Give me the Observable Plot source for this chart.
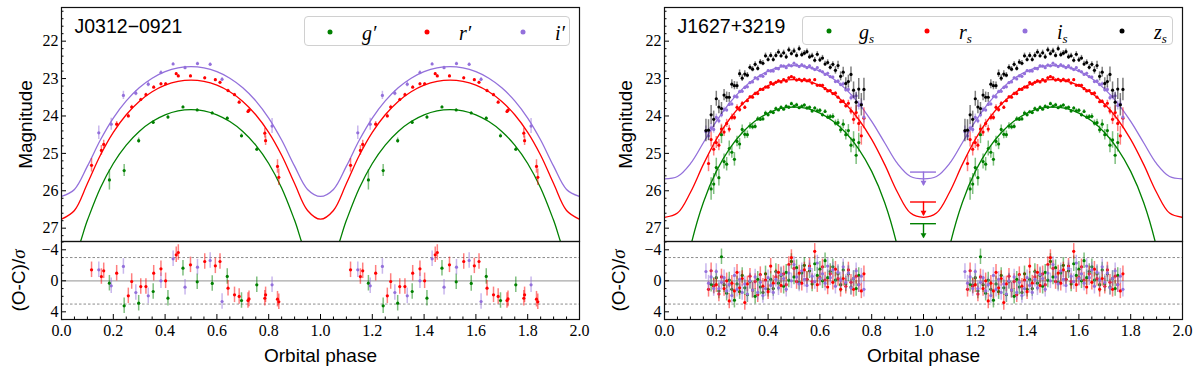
<!DOCTYPE html>
<html><head><meta charset="utf-8">
<script src="https://cdn.jsdelivr.net/npm/d3@7"></script>
<script src="https://cdn.jsdelivr.net/npm/@observablehq/plot@0.6"></script>
<style>
body{margin:0;background:#fff}
#fig{position:relative;width:1200px;height:372px;background:#fff;overflow:hidden}
.p{position:absolute;width:600px}
.leg{position:absolute;border:1px solid #d0d0d0;border-radius:4px;background:rgba(255,255,255,0.8);box-sizing:border-box}
.leg .dot{position:absolute;width:5px;height:5px;border-radius:50%;transform:translate(-50%,-50%)}
.leg .lab{position:absolute;font-family:'Liberation Serif',serif;font-style:italic;font-size:20px;line-height:20px;transform:translateY(-50%);white-space:nowrap}
.leg sub{font-size:13px;vertical-align:-4px;line-height:0}
</style></head><body><div id="fig"></div><script>
// ---------- ticks ----------
const phaseTicks = [0,0.2,0.4,0.6,0.8,1.0,1.2,1.4,1.6,1.8,2.0];
const magTicks = [22,23,24,25,26,27];
const resTicks = [-4,0,4];
const resZero = [0];
const resLimits = [-3,3];
const colors = {g:"green", r:"red", i:"mediumpurple", z:"black"};

// ---------- J0312-0921 (left) ----------
const phaseL_g = [0.185,0.242,0.298,0.354,0.411,0.469,0.524,0.582,0.640,0.695,0.754];
const magL_g = [25.71,25.46,24.66,24.17,24.03,23.76,23.84,23.92,24.06,24.53,24.89];
const errL_g = [0.27,0.16,0.07,0.05,0.045,0.03,0.03,0.03,0.03,0.05,0.05];
const resL_g = [0.31,3.23,2.89,1.38,2.24,-1.63,0.13,0.34,-0.56,2.54,0.52];

const phaseL_r = [0.116,0.154,0.163,0.213,0.258,0.271,0.306,0.326,0.356,0.384,0.402,0.443,0.451,0.498,0.553,0.594,0.612,0.643,0.668,0.686,0.720,0.724,0.785,0.788,0.834,0.839];
const magL_r = [25.32,24.92,24.76,24.22,24.00,23.76,23.56,23.43,23.23,23.14,23.14,22.87,22.93,22.93,22.98,23.03,23.10,23.32,23.43,23.63,23.88,23.85,24.46,24.66,25.35,25.64];
const errL_r = [0.18,0.13,0.11,0.07,0.05,0.045,0.035,0.035,0.035,0.035,0.035,0.03,0.03,0.03,0.03,0.03,0.03,0.035,0.035,0.04,0.045,0.045,0.13,0.13,0.18,0.22];
const resL_r = [-1.42,-0.55,-1.29,-0.98,1.94,0.09,0.74,0.74,-0.98,-1.54,0.0,-3.35,-3.65,-2.06,-2.49,-1.93,-2.49,0.95,1.81,2.02,2.54,2.33,2.25,1.81,2.37,2.71];

const phaseL_i = [0.144,0.192,0.239,0.287,0.335,0.384,0.431,0.477,0.525,0.574,0.620,0.813];
const magL_i = [24.45,24.22,23.45,23.39,23.15,22.84,22.61,22.71,22.60,22.62,23.02,24.27];
const errL_i = [0.18,0.16,0.11,0.07,0.07,0.05,0.04,0.04,0.04,0.04,0.05,0.2];
const resL_i = [-1.42,0.65,-1.85,1.51,1.94,0.0,-2.83,0.82,-1.76,-2.62,2.67,0.52];

const modelPhase = [0,0.05,0.1,0.15,0.2,0.25,0.3,0.35,0.4,0.45,0.5,0.55,0.6,0.65,0.7,0.75,0.8,0.85,0.9,0.95,1.0];
const modelL_i = [26.152,25.964,25.342,24.643,24.055,23.595,23.246,22.990,22.816,22.714,22.680,22.714,22.816,22.990,23.246,23.595,24.055,24.643,25.342,25.964,26.152];
const modelL_r = [26.760,26.527,25.807,25.052,24.439,23.968,23.613,23.353,23.177,23.074,23.040,23.074,23.177,23.353,23.613,23.968,24.439,25.052,25.807,26.527,26.760];
const modelL_g = [28.126,27.751,26.790,25.927,25.270,24.779,24.413,24.149,23.969,23.864,23.830,23.864,23.969,24.149,24.413,24.779,25.270,25.927,26.790,27.751,28.126];

// ---------- J1627+3219 (right) ----------
const phaseR = [0.16,0.17,0.18,0.19,0.20,0.21,0.22,0.23,0.24,0.25,0.26,0.27,0.28,0.29,0.30,0.31,0.32,0.33,0.34,0.35,0.36,0.37,0.38,0.39,0.40,0.41,0.42,0.43,0.44,0.45,0.46,0.47,0.48,0.49,0.50,0.51,0.52,0.53,0.54,0.55,0.56,0.57,0.58,0.59,0.60,0.61,0.62,0.63,0.64,0.65,0.66,0.67,0.68,0.69,0.70,0.71,0.72,0.73,0.74,0.75,0.76,0.77];
const magR_g = [null,null,25.95,25.82,25.38,25.65,24.50,25.22,25.29,24.87,24.97,25.16,24.68,24.75,24.36,24.49,24.50,24.27,24.29,24.28,24.08,24.09,24.08,23.92,23.97,23.89,23.91,23.80,23.84,23.77,23.82,23.74,23.77,23.67,23.74,23.70,23.78,23.74,23.71,23.79,23.77,23.87,23.79,23.86,23.85,23.97,23.88,24.03,24.02,24.01,24.19,24.18,24.37,24.22,24.50,24.39,24.78,24.64,25.05,24.71,null,null];
const errR_g = [0.35,0.32,0.30,0.28,0.25,0.22,0.24,0.20,0.18,0.20,0.16,0.18,0.14,0.15,0.12,0.12,0.10,0.09,0.08,0.07,0.06,0.05,0.05,0.05,0.04,0.04,0.04,0.04,0.04,0.04,0.04,0.04,0.04,0.04,0.04,0.04,0.04,0.04,0.04,0.04,0.04,0.04,0.04,0.05,0.05,0.05,0.05,0.06,0.06,0.07,0.08,0.09,0.10,0.12,0.14,0.16,0.20,0.22,0.25,0.25,0.28,0.30];
const resR_g = [null,null,0.45,0.6,-0.4,1.3,-3.1,0.5,1.6,-0.1,1.1,2.5,0.4,1.4,-0.7,0.9,1.8,0.1,1.2,2.0,-0.2,0.8,1.5,-0.9,1.1,-0.2,1.0,-1.2,0.3,-0.7,0.7,-1.1,-0.1,-2.5,-0.5,-1.7,0.2,-1.0,-2.0,-0.2,-1.3,0.4,-2.2,-0.7,-1.5,0.0,-2.6,-0.4,-1.2,-1.8,-0.1,-0.9,0.5,-1.4,0.4,-0.9,0.8,-0.3,1.0,-0.7,null,null];

const magR_r = [null,25.27,24.63,24.89,24.71,24.78,24.35,24.43,24.20,24.35,24.04,24.04,23.77,23.83,23.67,23.77,23.59,23.49,23.50,23.40,23.40,23.29,23.29,23.23,23.23,23.11,23.15,23.10,23.06,23.09,23.03,23.07,22.98,22.95,22.98,23.04,23.02,23.06,23.02,23.06,23.04,23.12,23.03,23.18,23.18,23.18,23.27,23.33,23.32,23.40,23.39,23.50,23.62,23.61,23.73,23.66,23.87,24.09,23.91,24.20,24.53,24.06];
const errR_r = [0.25,0.22,0.20,0.18,0.16,0.15,0.13,0.12,0.11,0.10,0.09,0.08,0.07,0.07,0.06,0.05,0.05,0.04,0.04,0.04,0.03,0.03,0.03,0.03,0.03,0.03,0.03,0.03,0.03,0.03,0.03,0.03,0.03,0.03,0.03,0.03,0.03,0.03,0.03,0.03,0.03,0.03,0.03,0.03,0.03,0.03,0.03,0.03,0.03,0.03,0.04,0.04,0.05,0.05,0.06,0.08,0.10,0.14,0.18,0.22,0.25,0.28];
const resR_r = [null,1.1,-1.3,0.7,0.5,1.7,-0.5,1.0,0.0,2.6,0.3,1.3,-1.1,0.9,-0.3,2.8,0.4,-0.6,1.2,0.1,1.8,-0.8,0.7,-0.1,1.4,-1.9,0.3,-0.5,-1.1,0.6,-0.9,0.5,-2.1,-3.0,-1.6,0.1,-1.0,0.3,-1.4,-0.2,-1.9,0.1,-3.8,0.5,-0.4,-1.8,-0.1,0.8,-0.9,0.2,-1.5,-0.3,1.1,-0.3,0.7,-1.4,0.2,1.1,-0.6,0.5,1.3,-0.9];

const magR_i = [24.42,24.53,24.32,24.36,24.04,24.13,23.97,23.83,23.84,23.69,23.68,23.48,23.49,23.35,23.34,23.24,23.22,23.11,23.09,22.98,23.01,22.93,22.94,22.87,22.79,22.80,22.80,22.73,22.74,22.66,22.67,22.71,22.64,22.66,22.59,22.64,22.68,22.63,22.67,22.71,22.66,22.72,22.76,22.71,22.79,22.82,22.89,22.86,22.95,22.96,23.08,23.07,23.16,23.14,23.30,23.29,23.51,23.48,23.46,23.72,23.68,24.03];
const errR_i = [0.15,0.13,0.12,0.10,0.09,0.08,0.08,0.07,0.06,0.06,0.05,0.05,0.05,0.04,0.04,0.04,0.03,0.03,0.03,0.03,0.03,0.03,0.03,0.03,0.03,0.03,0.03,0.03,0.03,0.03,0.03,0.03,0.03,0.03,0.03,0.03,0.03,0.03,0.03,0.03,0.03,0.03,0.03,0.03,0.03,0.03,0.03,0.03,0.03,0.03,0.04,0.04,0.05,0.05,0.06,0.07,0.08,0.09,0.10,0.12,0.14,0.16];
const resR_i = [-1.2,0.3,-0.5,1.0,-1.2,1.0,0.2,-0.4,1.3,0.5,1.9,-0.7,1.1,-0.2,1.5,0.4,1.7,0.0,1.2,-0.5,1.5,0.2,1.9,1.0,-0.4,0.6,1.5,-0.2,0.9,-0.8,-0.3,1.1,-1.0,0.0,-2.1,-0.5,0.4,-1.3,-0.2,0.6,-1.6,-0.6,0.1,-2.3,-0.3,-0.9,0.3,-1.9,-0.4,-1.4,0.7,-1.1,-0.1,-1.8,0.2,-1.0,0.9,-0.3,-1.3,0.5,-0.6,1.1];

const magR_z = [24.39,24.38,23.97,24.09,23.54,23.76,23.80,23.44,23.50,23.50,23.15,23.19,23.19,22.87,22.99,22.88,22.91,22.70,22.75,22.62,22.73,22.56,22.59,22.39,22.49,22.38,22.49,22.38,22.29,22.39,22.31,22.42,22.23,22.33,22.26,22.38,22.20,22.36,22.32,22.28,22.42,22.39,22.51,22.35,22.50,22.45,22.61,22.57,22.70,22.62,22.78,22.65,22.94,22.83,23.13,23.08,22.89,23.31,23.63,23.28,23.70,23.29];
const errR_z = [0.30,0.28,0.25,0.22,0.20,0.18,0.16,0.15,0.14,0.13,0.12,0.11,0.10,0.10,0.09,0.09,0.07,0.07,0.07,0.07,0.07,0.07,0.07,0.07,0.07,0.07,0.07,0.07,0.07,0.07,0.07,0.07,0.07,0.07,0.07,0.07,0.07,0.07,0.07,0.07,0.07,0.07,0.07,0.07,0.07,0.07,0.07,0.07,0.07,0.07,0.10,0.11,0.12,0.13,0.15,0.17,0.20,0.22,0.25,0.28,0.30,0.30];

const modelR_i = [25.680,25.618,25.276,24.716,24.147,23.663,23.283,22.999,22.803,22.688,22.650,22.688,22.803,22.999,23.283,23.663,24.147,24.716,25.276,25.618,25.680];
const modelR_r = [26.710,26.597,26.045,25.295,24.626,24.094,23.688,23.391,23.188,23.069,23.030,23.069,23.188,23.391,23.688,24.094,24.626,25.295,26.045,26.597,26.710];
const modelR_g = [30.51,29.35,27.516,26.311,25.482,24.885,24.448,24.135,23.923,23.800,23.760,23.800,23.923,24.135,24.448,24.885,25.482,26.311,27.516,29.35,30.51];

// upper limits at phase 1 (right panel)
const ulBand = ["i","r","g"];
const ulPhase = [1.0,1.0,1.0];
const ulMag = [25.50,26.30,26.88];
const ulTip = [25.86,26.66,27.26];
const ulHalfWidth = 0.05;

const titles = ["J0312\u22120921","J1627+3219"];
const legendL = ["g\u2032","r\u2032","i\u2032"];
const legendR = ["g","r","i","z"];

// ---------- helpers ----------
function pts(phase, mag, err, res, band) {
  const out = [];
  for (const k of [0,1]) for (let j = 0; j < phase.length; j++) {
    if (mag[j] == null) continue;
    out.push({phase: phase[j] + k, mag: mag[j], err: err[j], res: res ? res[j] : null, band});
  }
  return out;
}
function model(vals, band) {
  const out = [];
  for (const k of [0,1]) for (let j = 0; j < modelPhase.length; j++) {
    if (k === 1 && j === 0) continue;
    out.push({phase: modelPhase[j] + k, mag: vals[j], band});
  }
  return out;
}
const SERIF = "'Liberation Serif', serif";
const SANS = "'Liberation Sans', Arial, sans-serif";
const magMinor = d3.range(21.2, 27.3, 0.2).map(v => +v.toFixed(1)).filter(v => Math.abs(v - Math.round(v)) > 0.01);
const resMinor = d3.range(-5, 6, 1).filter(v => v % 4 !== 0);
const phaseMinor = d3.range(0, 2.001, 0.05).map(v => +v.toFixed(2)).filter(v => Math.abs(v*5 - Math.round(v*5)) > 0.01);

function topPlot({mL, mR, title, series, models, limits, ylabDx}) {
  const pw = 600 - mL - mR;
  const marks = [];
  for (const m of models) marks.push(Plot.line(m, {x: "phase", y: "mag", stroke: colors[m[0].band], strokeWidth: 1.3, curve: "catmull-rom", clip: true}));
  for (const s of series) {
    const c = colors[s[0].band];
    marks.push(Plot.ruleX(s, {x: "phase", y1: d => d.mag - d.err, y2: d => d.mag + d.err, stroke: c, strokeOpacity: 0.5, strokeWidth: 1.5, clip: true}));
    marks.push(Plot.dot(s, {x: "phase", y: "mag", r: 1.6, fill: c, clip: true}));
  }
  if (limits) {
    marks.push(Plot.ruleY(limits, {y: "mag", x1: d => d.phase - ulHalfWidth, x2: d => d.phase + ulHalfWidth, stroke: d => colors[d.band], strokeWidth: 1.4}));
    marks.push(Plot.ruleX(limits, {x: "phase", y1: "mag", y2: "tip", stroke: d => colors[d.band], strokeWidth: 1.4}));
    marks.push(Plot.dot(limits, {x: "phase", y: d => d.tip - 0.08, symbol: "triangle", rotate: 180, r: 2.2, fill: d => colors[d.band]}));
  }
  marks.push(
    Plot.tickY(magTicks, {y: d => d, insetRight: pw - 5, stroke: "black"}),
    Plot.tickY(magMinor, {y: d => d, insetRight: pw - 2.5, stroke: "black"}),
    Plot.axisY({ticks: magTicks, tickSize: 0, tickPadding: 3, tickFormat: d3.format("d"), label: null, fontFamily: SERIF, fontSize: 16}),
    Plot.frame({stroke: "#111", strokeWidth: 1.2}),
    Plot.text([title], {text: d => d, frameAnchor: "top-left", dx: 13, dy: 11.3, lineAnchor: "top", textAnchor: "start", fontFamily: SANS, fontSize: 19.5, fill: "black"}),
    Plot.text(["Magnitude"], {text: d => d, frameAnchor: "left", dx: ylabDx, rotate: -90, textAnchor: "middle", lineAnchor: "middle", fontFamily: SANS, fontSize: 19, fill: "black"})
  );
  return Plot.plot({
    width: 600, height: 241, marginLeft: mL, marginRight: mR, marginTop: 7, marginBottom: 0,
    style: {fontFamily: SERIF, fontSize: "16px", overflow: "visible", background: "transparent", color: "black"},
    x: {domain: [0, 2], axis: null},
    y: {domain: [21.1, 27.356], reverse: true},
    marks
  });
}

function resPlot({mL, mR, series, ylabDx}) {
  const pw = 600 - mL - mR;
  const ph = 78;
  const marks = [
    Plot.ruleY(resZero, {y: d => d, stroke: "#a8a8a8", strokeWidth: 1.2}),
    Plot.ruleY(resLimits, {y: d => d, stroke: "#8c8c8c", strokeWidth: 1, strokeDasharray: "2.5,2"})
  ];
  for (const s of series) {
    const c = colors[s[0].band];
    marks.push(Plot.ruleX(s, {x: "phase", y1: d => d.res - 1, y2: d => d.res + 1, stroke: c, strokeOpacity: 0.5, strokeWidth: 1.5, clip: true}));
    marks.push(Plot.dot(s, {x: "phase", y: "res", r: 1.6, fill: c, clip: true}));
  }
  marks.push(
    Plot.tickY(resTicks, {y: d => d, insetRight: pw - 5, stroke: "black"}),
    Plot.tickY(resMinor, {y: d => d, insetRight: pw - 2.5, stroke: "black"}),
    Plot.tickX(phaseTicks, {x: d => d, insetTop: ph - 5, stroke: "black"}),
    Plot.tickX(phaseMinor, {x: d => d, insetTop: ph - 2.5, stroke: "black"}),
    Plot.axisY({ticks: resTicks, tickSize: 0, tickPadding: 3, label: null, fontFamily: SERIF, fontSize: 16}),
    Plot.axisX({ticks: phaseTicks, tickSize: 0, tickPadding: 5, tickFormat: d3.format(".1f"), label: null, fontFamily: SERIF, fontSize: 16}),
    Plot.frame({stroke: "#111", strokeWidth: 1.2}),
    Plot.text(["(O-C)/\u03c3"], {text: d => d, frameAnchor: "left", dx: ylabDx, rotate: -90, textAnchor: "middle", lineAnchor: "middle", fontFamily: SANS, fontSize: 19, fill: "black"}),
    Plot.text(["Orbital phase"], {text: d => d, frameAnchor: "bottom", dy: 36, textAnchor: "middle", lineAnchor: "middle", fontFamily: SANS, fontSize: 19, fill: "black"})
  );
  const svg = Plot.plot({
    width: 600, height: 131, marginLeft: mL, marginRight: mR, marginTop: 0, marginBottom: 53,
    style: {fontFamily: SERIF, fontSize: "16px", overflow: "visible", background: "transparent", color: "black"},
    x: {domain: [0, 2]},
    y: {domain: [-5.07, 4.99], reverse: true},
    marks
  });
  svg.querySelectorAll("text").forEach(t => {
    if (t.textContent === "(O-C)/\u03c3") {
      t.textContent = "(O-C)/";
      const ts = document.createElementNS("http://www.w3.org/2000/svg", "tspan");
      ts.setAttribute("font-style", "italic");
      ts.setAttribute("font-family", SERIF);
      ts.textContent = "\u03c3";
      t.appendChild(ts);
    }
  });
  return svg;
}

const fig = document.getElementById("fig");
function place(svg, left, top) {
  const d = document.createElement("div");
  d.className = "p"; d.style.left = left + "px"; d.style.top = top + "px";
  d.appendChild(svg); fig.appendChild(d);
}

// left panel
const L_g = pts(phaseL_g, magL_g, errL_g, resL_g, "g");
const L_r = pts(phaseL_r, magL_r, errL_r, resL_r, "r");
const L_i = pts(phaseL_i, magL_i, errL_i, resL_i, "i");
place(topPlot({mL: 61, mR: 21, title: titles[0], series: [L_g, L_r, L_i],
  models: [model(modelL_i, "i"), model(modelL_r, "r"), model(modelL_g, "g")], ylabDx: -36}), 0, 0);
place(resPlot({mL: 61, mR: 21, series: [L_g, L_r, L_i], ylabDx: -43}), 0, 241);

// right panel
const R_g = pts(phaseR, magR_g, errR_g, resR_g, "g");
const R_r = pts(phaseR, magR_r, errR_r, resR_r, "r");
const R_i = pts(phaseR, magR_i, errR_i, resR_i, "i");
const R_z = pts(phaseR, magR_z, errR_z, null, "z");
const limits = ulBand.map((b, j) => ({band: b, phase: ulPhase[j], mag: ulMag[j], tip: ulTip[j]}));
place(topPlot({mL: 64, mR: 18, title: titles[1], series: [R_g, R_r, R_i, R_z],
  models: [model(modelR_i, "i"), model(modelR_r, "r"), model(modelR_g, "g")], limits, ylabDx: -39}), 600, 0);
place(resPlot({mL: 64, mR: 18, series: [R_g, R_r, R_i], ylabDx: -46}), 600, 241);

// legends
function legend(left, top, w, h, items) {
  const box = document.createElement("div");
  box.className = "leg";
  Object.assign(box.style, {left: left + "px", top: top + "px", width: w + "px", height: h + "px"});
  for (const it of items) {
    const dot = document.createElement("span");
    dot.className = "dot";
    Object.assign(dot.style, {left: it.dx + "px", top: it.y + "px", background: it.color});
    const lab = document.createElement("span");
    lab.className = "lab";
    Object.assign(lab.style, {left: it.lx + "px", top: (it.y + 1) + "px"});
    lab.innerHTML = it.html;
    box.appendChild(dot); box.appendChild(lab);
  }
  fig.appendChild(box);
}
legend(304, 16, 266, 30, [
  {dx: 24.7, lx: 57, y: 14.5, color: colors.g, html: legendL[0]},
  {dx: 121.7, lx: 154, y: 14.5, color: colors.r, html: legendL[1]},
  {dx: 218, lx: 250, y: 14.5, color: colors.i, html: legendL[2]}
]);
legend(802, 16, 371, 29, [
  {dx: 25.7, lx: 56, y: 14, color: colors.g, html: legendR[0] + "<sub>s</sub>"},
  {dx: 123.7, lx: 156, y: 14, color: colors.r, html: legendR[1] + "<sub>s</sub>"},
  {dx: 222, lx: 254, y: 14, color: colors.i, html: legendR[2] + "<sub>s</sub>"},
  {dx: 318.7, lx: 351, y: 14, color: colors.z, html: legendR[3] + "<sub>s</sub>"}
]);
</script></body></html>
